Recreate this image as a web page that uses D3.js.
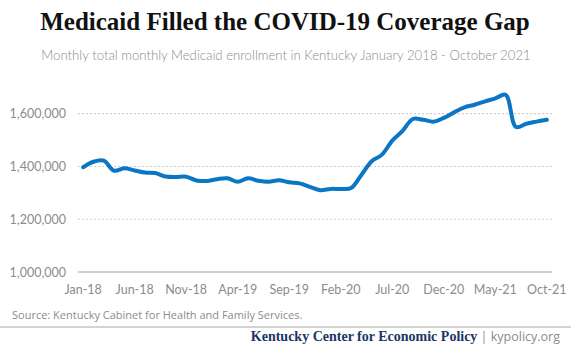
<!DOCTYPE html>
<html lang="en">
<head>
  <meta charset="UTF-8">
  <script src="https://cdn.jsdelivr.net/npm/d3@7"></script>
  <title>Medicaid Filled the COVID-19 Coverage Gap</title>
  <style>
    body { margin: 0; background: #fff; }
  </style>
</head>
<body>
  <svg width="571" height="350"></svg>
<script>
  // months Jan 2018 - Oct 2021
  const months = [
    "Jan-18", "Feb-18", "Mar-18", "Apr-18", "May-18", "Jun-18", "Jul-18", "Aug-18", "Sep-18", "Oct-18", "Nov-18", "Dec-18",
    "Jan-19", "Feb-19", "Mar-19", "Apr-19", "May-19", "Jun-19", "Jul-19", "Aug-19", "Sep-19", "Oct-19", "Nov-19", "Dec-19",
    "Jan-20", "Feb-20", "Mar-20", "Apr-20", "May-20", "Jun-20", "Jul-20", "Aug-20", "Sep-20", "Oct-20", "Nov-20", "Dec-20",
    "Jan-21", "Feb-21", "Mar-21", "Apr-21", "May-21", "Jun-21", "Jul-21", "Aug-21", "Sep-21", "Oct-21"
  ];

  // total enrollment
  const enrollment = [
    1397000, 1418000, 1422000, 1384000, 1393000, 1385000, 1377000, 1375000, 1362000, 1360000, 1361000, 1347000,
    1345000, 1352000, 1355000, 1342000, 1355000, 1346000, 1342000, 1348000, 1340000, 1336000, 1323000, 1310000,
    1315000, 1315000, 1318000, 1368000, 1420000, 1445000, 1498000, 1535000, 1580000, 1577000, 1570000, 1584000,
    1605000, 1624000, 1634000, 1647000, 1658000, 1672000, 1550000, 1562000, 1570000, 1577000
  ];

  const xTicks = ["Jan-18", "Jun-18", "Nov-18", "Apr-19", "Sep-19", "Feb-20", "Jul-20", "Dec-20", "May-21", "Oct-21"];
  const yTicks = [1000000, 1200000, 1400000, 1600000];

  const svg = d3.select("svg");
  const W = +svg.attr("width");

  const margin = { left: 78, right: 19 };
  const plotBottom = 272;

  const x = d3.scalePoint()
    .domain(months)
    .range([margin.left, W - margin.right])
    .padding(0.5);

  const y = d3.scaleLinear()
    .domain([1000000, 1700000])
    .range([plotBottom, plotBottom - 7 * 26.38]);

  const fmt = d3.format(",");
  const grey = "#8c8c8c";

  // title
  svg.append("text")
    .attr("x", 285)
    .attr("y", 30)
    .attr("text-anchor", "middle")
    .style("font-family", "'Liberation Serif', serif")
    .style("font-weight", "bold")
    .style("font-size", "25px")
    .attr("fill", "#111")
    .text("Medicaid Filled the COVID-19 Coverage Gap");

  svg.append("text")
    .attr("x", 286)
    .attr("y", 60)
    .attr("text-anchor", "middle")
    .style("font-family", "Lato, sans-serif")
    .style("font-weight", 300)
    .style("font-size", "13.2px")
    .attr("fill", grey)
    .text("Monthly total monthly Medicaid enrollment in Kentucky January 2018 - October 2021");

  // gridlines
  svg.append("g")
    .selectAll("line")
    .data(yTicks.slice(1))
    .join("line")
    .attr("x1", margin.left)
    .attr("x2", W - margin.right)
    .attr("y1", d => y(d))
    .attr("y2", d => y(d))
    .attr("stroke", "#cfcfcf")
    .attr("stroke-width", 1.2)
    .attr("stroke-dasharray", "2,2");

  // base axis line
  svg.append("line")
    .attr("x1", margin.left)
    .attr("x2", W - margin.right)
    .attr("y1", y(1000000))
    .attr("y2", y(1000000))
    .attr("stroke", "#bdbdbd")
    .attr("stroke-width", 1.5);

  // y labels
  svg.append("g")
    .selectAll("text")
    .data(yTicks)
    .join("text")
    .attr("x", 66)
    .attr("y", d => y(d) + 4.5)
    .attr("text-anchor", "end")
    .style("font-family", "Lato, sans-serif")
    .style("font-size", "12.5px")
    .attr("fill", grey)
    .text(d => fmt(d));

  // x labels
  svg.append("g")
    .selectAll("text")
    .data(xTicks)
    .join("text")
    .attr("x", d => x(d))
    .attr("y", 294)
    .attr("text-anchor", "middle")
    .style("font-family", "Lato, sans-serif")
    .style("font-size", "12.5px")
    .attr("fill", grey)
    .text(d => d);

  // the line
  const line = d3.line()
    .x((d, i) => x(months[i]))
    .y(d => y(d))
    .curve(d3.curveCatmullRom.alpha(0.5));

  svg.append("path")
    .datum(enrollment)
    .attr("d", line)
    .attr("fill", "none")
    .attr("stroke", "#0a76c4")
    .attr("stroke-width", 4)
    .attr("stroke-linejoin", "round")
    .attr("stroke-linecap", "round");

  // source + footer
  svg.append("text")
    .attr("x", 12)
    .attr("y", 319)
    .style("font-family", "'Open Sans', sans-serif")
    .style("font-size", "11px")
    .attr("fill", grey)
    .text("Source: Kentucky Cabinet for Health and Family Services.");

  svg.append("line")
    .attr("x1", 0)
    .attr("x2", W)
    .attr("y1", 327)
    .attr("y2", 327)
    .attr("stroke", "#c4c4c4")
    .attr("stroke-width", 1.5);

  const footer = svg.append("text")
    .attr("x", 560)
    .attr("y", 341)
    .attr("text-anchor", "end");

  footer.append("tspan")
    .style("font-family", "'Liberation Serif', serif")
    .style("font-weight", "bold")
    .style("font-size", "14px")
    .attr("fill", "#1c3566")
    .text("Kentucky Center for Economic Policy");

  footer.append("tspan")
    .style("font-family", "'Open Sans', sans-serif")
    .style("font-size", "12.5px")
    .attr("fill", grey)
    .text(" | kypolicy.org");
</script>
</body>
</html>
